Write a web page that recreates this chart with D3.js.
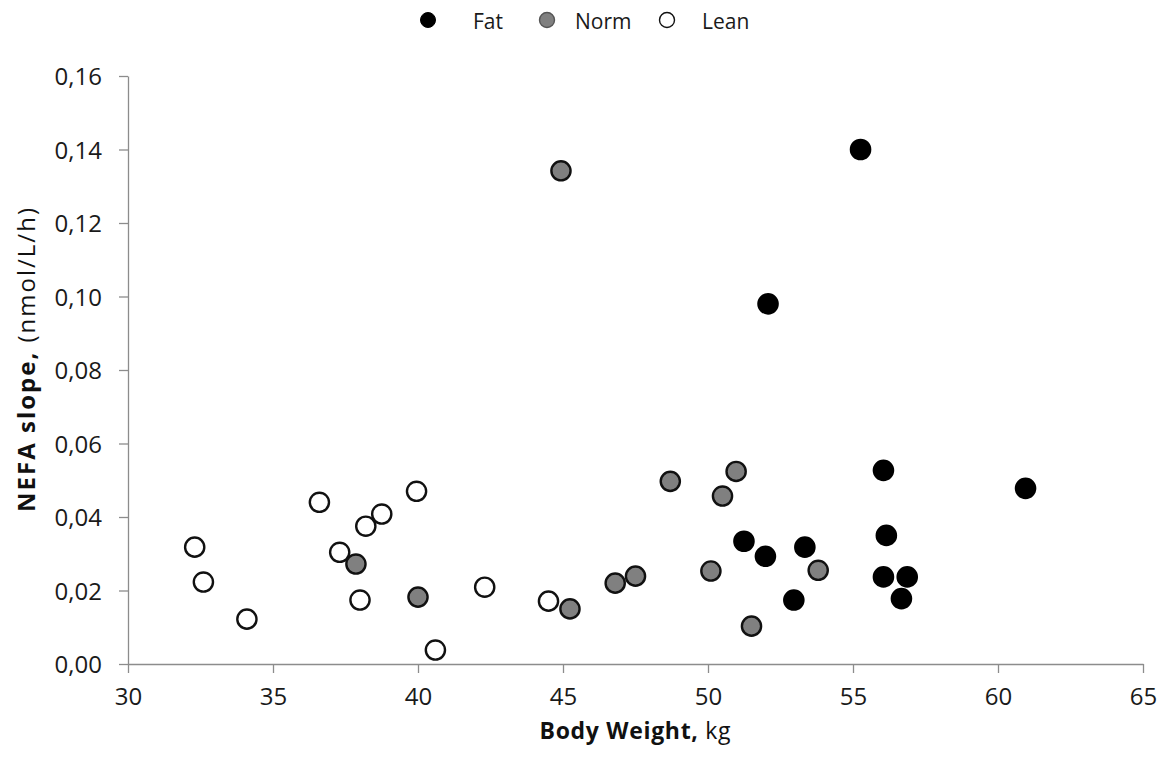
<!DOCTYPE html>
<html>
<head>
<meta charset="utf-8">
<script src="https://cdn.jsdelivr.net/npm/d3@7"></script>
<style>
  html, body { margin: 0; padding: 0; background: #fff; }
  svg { display: block; font-family: "Open Sans", "DejaVu Sans", sans-serif; }
</style>
</head>
<body>
<svg id="chart" width="1167" height="765"></svg>
<script>
// Body weight (kg) and NEFA slope (nmol/L/h) per animal, by body condition group
const fatWeight  = [55.26, 52.07, 51.24, 51.98, 53.34, 52.96, 56.05, 56.15, 56.05, 56.87, 56.67, 60.95];
const fatSlope   = [0.140, 0.098, 0.0334, 0.0293, 0.0318, 0.0174, 0.0527, 0.0350, 0.0237, 0.0237, 0.0178, 0.0478];
const normWeight = [37.86, 40.0, 44.93, 45.24, 46.8, 47.5, 48.7, 50.1, 50.5, 50.97, 51.5, 53.8];
const normSlope  = [0.0272, 0.0182, 0.1342, 0.0150, 0.0220, 0.0239, 0.0497, 0.0253, 0.0457, 0.0524, 0.0103, 0.0255];
const leanWeight = [32.3, 32.6, 34.1, 36.6, 37.3, 38.2, 38.75, 38.0, 39.95, 40.6, 42.3, 44.5];
const leanSlope  = [0.0318, 0.0223, 0.0122, 0.0440, 0.0304, 0.0375, 0.0408, 0.0174, 0.0470, 0.0038, 0.0209, 0.0171];

const groupNames = ["Fat", "Norm", "Lean"];
const xTicks = [30, 35, 40, 45, 50, 55, 60, 65];
const yTicks = [0, 0.02, 0.04, 0.06, 0.08, 0.10, 0.12, 0.14, 0.16];

const groups = [
  { name: groupNames[0], w: fatWeight,  s: fatSlope,  fill: "#000000", stroke: "#000000" },
  { name: groupNames[1], w: normWeight, s: normSlope, fill: "#808080", stroke: "#111111" },
  { name: groupNames[2], w: leanWeight, s: leanSlope, fill: "#ffffff", stroke: "#111111" }
];

const svg = d3.select("#chart");
const x = d3.scaleLinear().domain([30, 65]).range([128, 1143]);
const y = d3.scaleLinear().domain([0, 0.16]).range([664, 76]);
const comma = d => d3.format(".2f")(d).replace(".", ",");

// Axes
const xAxis = svg.append("g")
  .attr("transform", `translate(0,${y(0)})`)
  .call(d3.axisBottom(x).tickValues(xTicks).tickSize(9).tickSizeOuter(0).tickPadding(15));
const yAxis = svg.append("g")
  .attr("transform", `translate(${x(30)},0)`)
  .call(d3.axisLeft(y).tickValues(yTicks).tickFormat(comma).tickSize(9).tickSizeOuter(0).tickPadding(17));

[xAxis, yAxis].forEach(a => {
  a.select(".domain").attr("stroke", "#8c8c8c").attr("stroke-width", 1.3);
  a.selectAll(".tick line").attr("stroke", "#8c8c8c").attr("stroke-width", 1.3);
  a.selectAll(".tick text").attr("fill", "#1a1a1a")
    .style("font-size", "24px").style("font-family", "'Open Sans', sans-serif");
});
yAxis.selectAll(".tick text").attr("dy", "0.36em");

// Points
groups.slice().reverse().forEach(g => {
  svg.append("g").selectAll("circle")
    .data(g.w.map((w, i) => [w, g.s[i]]))
    .join("circle")
    .attr("cx", d => x(d[0]))
    .attr("cy", d => y(d[1]))
    .attr("r", 9.6)
    .attr("fill", g.fill)
    .attr("stroke", g.stroke)
    .attr("stroke-width", 2.4);
});

// Axis titles
const xt = svg.append("text")
  .attr("x", 635).attr("y", 739)
  .attr("text-anchor", "middle")
  .attr("textLength", 191).attr("lengthAdjust", "spacing")
  .style("font-size", "23px").attr("fill", "#111");
xt.append("tspan").attr("font-weight", "bold").text("Body Weight,");
xt.append("tspan").text(" kg");

const yt = svg.append("text")
  .attr("transform", "translate(35,360) rotate(-90)")
  .attr("text-anchor", "middle")
  .attr("textLength", 304).attr("lengthAdjust", "spacing")
  .style("font-size", "24px").attr("fill", "#111");
yt.append("tspan").attr("font-weight", "bold").text("NEFA slope,");
yt.append("tspan").text(" (nmol/L/h)");

// Legend
const legendX = [428, 547, 667];
const labelGap = [45, 28, 35];
const legend = svg.append("g");
groups.forEach((g, i) => {
  legend.append("circle")
    .attr("cx", legendX[i]).attr("cy", 20).attr("r", 7.5)
    .attr("fill", g.fill)
    .attr("stroke", i === 1 ? "#555" : g.stroke)
    .attr("stroke-width", i === 0 ? 1 : 1.4);
  legend.append("text")
    .attr("x", legendX[i] + labelGap[i]).attr("y", 29)
    .style("font-size", "21px").attr("fill", "#1a1a1a")
    .text(g.name);
});
</script>
</body>
</html>
